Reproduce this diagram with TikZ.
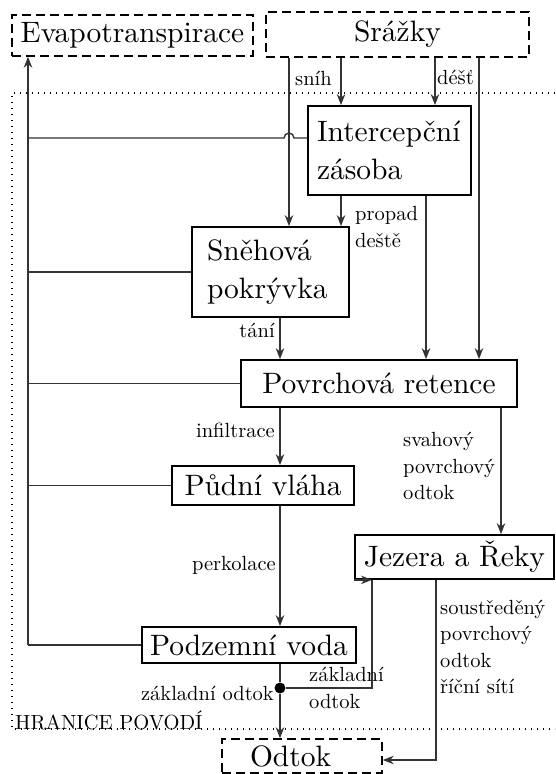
\documentclass[tikz,border=0pt]{standalone}
\usepackage{fontspec}
\setmainfont{lmroman10-regular.otf}
\usetikzlibrary{arrows.meta}
\newcommand\BoxFont{\fontsize{29.5}{37.5}\selectfont}
\newcommand\LabFont{\fontsize{20.5}{26.5}\selectfont}
\begin{document}
\begin{tikzpicture}[x=1pt,y=-1pt,
  box/.style={draw=black, line width=1.7pt, inner sep=0pt, font=\BoxFont},
  dbox/.style={box, line width=1.5pt, dash pattern=on 9pt off 5pt},
  lab/.style={inner sep=0pt, font=\LabFont},
  con/.style={draw=black!80, line width=1.4pt},
  arr/.style={con, -{Stealth[length=11pt,width=8.5pt]}},
  bound/.style={draw=black, line width=1.4pt, dash pattern=on 1.4pt off 4.6pt}]
\useasboundingbox (0,0) rectangle (555,774);

% catchment boundary
\draw[bound] (555,93) -- (12,93) -- (12,729) -- (555,729);

% boxes
\node[dbox, minimum width=241pt, minimum height=41pt] (evap) at (132.5,35.5) {Evapotranspirace};
\node[dbox, minimum width=263pt, minimum height=45pt] (srazky) at (397.5,34.5) {Srážky};
\node[box, text width=145pt, inner xsep=9pt, align=left, minimum height=89pt] (interc) at (389.5,150.5) {Intercepční\\zásoba};
\node[box, text width=127pt, inner xsep=15pt, align=left, minimum height=90pt] (snehova) at (270.5,272) {Sněhová\\pokrývka};
\node[box, minimum width=276pt, minimum height=47pt] (povr) at (379,383.5) {Povrchová retence};
\node[box, minimum width=182pt, minimum height=39pt] (pudni) at (263,485.5) {Půdní vláha};
\node[box, minimum width=199pt, minimum height=44pt] (jezera) at (454.5,557) {Jezera a Řeky};
\node[box, minimum width=214pt, minimum height=36pt] (podz) at (249,645) {Podzemní voda};
\node[dbox, text width=104pt, inner xsep=28pt, align=left, minimum height=34pt] (odtok) at (302,756) {Odtok};
\node[circle, fill=black, inner sep=0pt, minimum size=11pt] (dot) at (280,688) {};

% column / row coordinates
\coordinate (X28) at (28,0);
\coordinate (Xh) at (294,0);
\coordinate (Xs) at (289,0);
\coordinate (Xi) at (341,0);
\coordinate (Xd) at (435,0);
\coordinate (Xr) at (479,0);
\coordinate (Xq) at (426,0);
\coordinate (Xt) at (280,0);
\coordinate (Xv) at (501,0);
\coordinate (Xz) at (372,0);
\coordinate (Xo) at (436,0);
\coordinate (Y138) at (0,138);
\coordinate (Y760) at (0,760);

% connectors
\draw[arr] (srazky.south -| Xs) -- (snehova.north -| Xs);
\draw[arr] (srazky.south -| Xi) -- (interc.north -| Xi);
\draw[arr] (srazky.south -| Xd) -- (interc.north -| Xd);
\draw[arr] (srazky.south -| Xr) -- (povr.north -| Xr);
\draw[arr] (interc.south -| Xi) -- (snehova.north -| Xi);
\draw[arr] (interc.south -| Xq) -- (povr.north -| Xq);
\draw[arr] (snehova.south -| Xt) -- (povr.north -| Xt);
\draw[arr] (povr.south -| Xt) -- (pudni.north -| Xt);
\draw[arr] (pudni.south -| Xt) -- (podz.north -| Xt);
\draw[con] (podz.south -| Xt) -- (dot);
\draw[arr] (dot) -- (odtok.north -| Xt);
\draw[arr] (povr.south -| Xv) -- (jezera.north -| Xv);
\draw[con] (dot) -| (jezera.south -| Xz);
\draw[arr] (jezera.south west) -- (jezera.south -| Xz);
\draw[arr] (jezera.south -| Xo) |- (odtok.east |- Y760);

% evapotranspiration return
\draw[arr] (podz.west -| X28) -- (evap.south -| X28);
\draw[con] (interc.west |- Y138) -- (Xh |- Y138) arc[start angle=0, end angle=180, radius=5pt] -- (X28 |- Y138);
\draw[con] (snehova.west) -- (snehova.west -| X28);
\draw[con] (povr.west) -- (povr.west -| X28);
\draw[con] (pudni.west) -- (pudni.west -| X28);
\draw[con] (podz.west) -- (podz.west -| X28);

% labels
\node[lab, anchor=west] (lsnih) at (295,78) {sníh};
\node[lab, anchor=west] (ldest) at (437,77) {déšť};
\node[lab, anchor=west, align=left] (lpropad) at (355,227) {propad\\deště};
\node[lab, anchor=east] (ltani) at (275,330) {tání};
\node[lab, anchor=east] (linf) at (275,430) {infiltrace};
\node[lab, anchor=west, align=left] (lsvah) at (403,466) {svahový\\povrchový\\odtok};
\node[lab, anchor=east] (lperk) at (276,565) {perkolace};
\node[lab, anchor=west, align=left] (lsoust) at (440,647) {soustředěný\\povrchový\\odtok\\říční sítí};
\node[lab, anchor=east] (lzak1) at (274,693) {základní odtok};
\node[lab, anchor=west, align=left] (lzak2) at (309,688) {základní\\odtok};
\node[lab, anchor=base west] (lhran) at (15,729) {HRANICE POVODÍ};
\end{tikzpicture}
\end{document}
